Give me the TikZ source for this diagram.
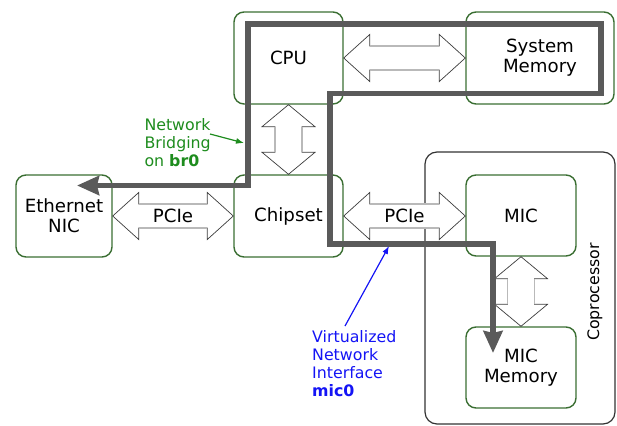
\documentclass[tikz,border=0pt]{standalone}
\usepackage{fontspec}
\setmainfont{DejaVu Sans}
\usetikzlibrary{calc,arrows.meta}

\definecolor{boxgreen}{HTML}{3A6E32}
\definecolor{pathgray}{HTML}{5A5A5A}
\definecolor{notegreen}{HTML}{1E8C1E}
\definecolor{noteblue}{HTML}{1414F5}
\definecolor{arrowedge}{HTML}{3C3C3C}

\tikzset{
  hwbox/.style={draw=boxgreen, line width=1.4pt, rounded corners=10pt,
    align=center, inner sep=0pt, font=\fontsize{18.2}{20}\selectfont},
  cobox/.style={draw=black!80, line width=1.2pt, rounded corners=12pt},
  biarrow/.style={draw=arrowedge, line width=0.7pt, fill=white, line join=miter},
  shaftedge/.style={draw=gray!55, line width=1.6pt},
  dataflow/.style={draw=pathgray, line width=5.5pt, line join=miter,
    {Stealth[length=22pt,width=19pt,inset=2pt]}-{Stealth[length=22pt,width=19pt,inset=2pt]}},
  note/.style={align=left, inner sep=0pt, font=\fontsize{15.8}{18}\selectfont},
  busname/.style={inner sep=0pt, font=\fontsize{18.2}{20}\selectfont},
  pointer/.style={line width=1.2pt, -{Latex[length=8pt,width=6pt]}},
}

% horizontal double-headed bus arrow between two anchors
\newcommand\hbiarrow[2]{%
  \draw[biarrow] let \p1=(#1), \p2=(#2) in
    (\x1,\y1) -- (\x1+26,\y1+23.5) -- (\x1+26,\y1+12) -- (\x2-26,\y1+12)
    -- (\x2-26,\y1+23.5) -- (\x2,\y1) -- (\x2-26,\y1-23.5) -- (\x2-26,\y1-12)
    -- (\x1+26,\y1-12) -- (\x1+26,\y1-23.5) -- cycle;
  \draw[shaftedge] let \p1=(#1), \p2=(#2) in
    (\x1+26,\y1+12) -- (\x2-26,\y1+12) (\x1+26,\y1-12) -- (\x2-26,\y1-12);
}
% vertical double-headed bus arrow between two anchors
\newcommand\vbiarrow[2]{%
  \draw[biarrow] let \p1=(#1), \p2=(#2) in
    (\x1,\y1) -- (\x1+26.5,\y1-22) -- (\x1+13.5,\y1-22) -- (\x1+13.5,\y2+22)
    -- (\x1+26.5,\y2+22) -- (\x1,\y2) -- (\x1-26.5,\y2+22) -- (\x1-13.5,\y2+22)
    -- (\x1-13.5,\y1-22) -- (\x1-26.5,\y1-22) -- cycle;
  \draw[shaftedge] let \p1=(#1), \p2=(#2) in
    (\x1+13.5,\y1-22) -- (\x1+13.5,\y2+22) (\x1-13.5,\y1-22) -- (\x1-13.5,\y2+22);
}

\begin{document}
\begin{tikzpicture}[x=1pt, y=-1pt]
\useasboundingbox (0,0) rectangle (617,425);

% coprocessor card outline
\node[cobox, minimum width=190pt, minimum height=272pt, inner sep=0pt] (copro) at (520,288) {};
\node[note, rotate=90] (coprolabel) at (595,292) {Coprocessor};

% hardware units
\node[hwbox, minimum width=109pt, minimum height=92pt] (cpu) at (288.5,58) {CPU};
\node[hwbox, minimum width=148pt, minimum height=92pt] (sysmem) at (540,58) {System\\Memory};
\node[hwbox, minimum width=96pt, minimum height=82pt] (nic) at (64,216) {Ethernet\\NIC};
\node[hwbox, minimum width=109pt, minimum height=82pt] (chipset) at (288.5,216) {Chipset};
\node[hwbox, minimum width=110pt, minimum height=81pt] (mic) at (521,215.5) {MIC};
\node[hwbox, minimum width=110pt, minimum height=81pt] (micmem) at (521,367.5) {MIC\\Memory};

% buses
\hbiarrow{cpu.east}{sysmem.west}
\hbiarrow{nic.east}{chipset.west}
\hbiarrow{chipset.east}{mic.west}
\vbiarrow{cpu.south}{chipset.north}
\vbiarrow{mic.south}{micmem.north}

\node[busname] (pcie1) at ($(nic.east)!0.5!(chipset.west)$) {PCIe};
\node[busname] (pcie2) at ($(chipset.east)!0.5!(mic.west)$) {PCIe};

% network data path
\coordinate (nicend) at (77,185.5);
\coordinate (micend) at (493,353);
\draw[dataflow] (nicend) -- (248,185.5) -- (248,24) -- (601,24) -- (601,93.5)
  -- (330,93.5) -- (330,244) -- (493,244) -- (micend);

% annotations
\node[note, text=notegreen, anchor=west] (bridgenote) at (144.3,143)
  {Network\\Bridging\\on \textbf{br0}};
\coordinate (bridgefrom) at (210,134);
\coordinate (bridgeto) at (244,143);
\draw[pointer, notegreen] (bridgefrom) -- (bridgeto);

\node[note, text=noteblue, anchor=west] (virtnote) at (312,364)
  {Virtualized\\Network\\Interface\\\textbf{mic0}};
\coordinate (virtfrom) at (345,326);
\coordinate (virtto) at (389,246);
\draw[pointer, noteblue] (virtfrom) -- (virtto);
\end{tikzpicture}
\end{document}
